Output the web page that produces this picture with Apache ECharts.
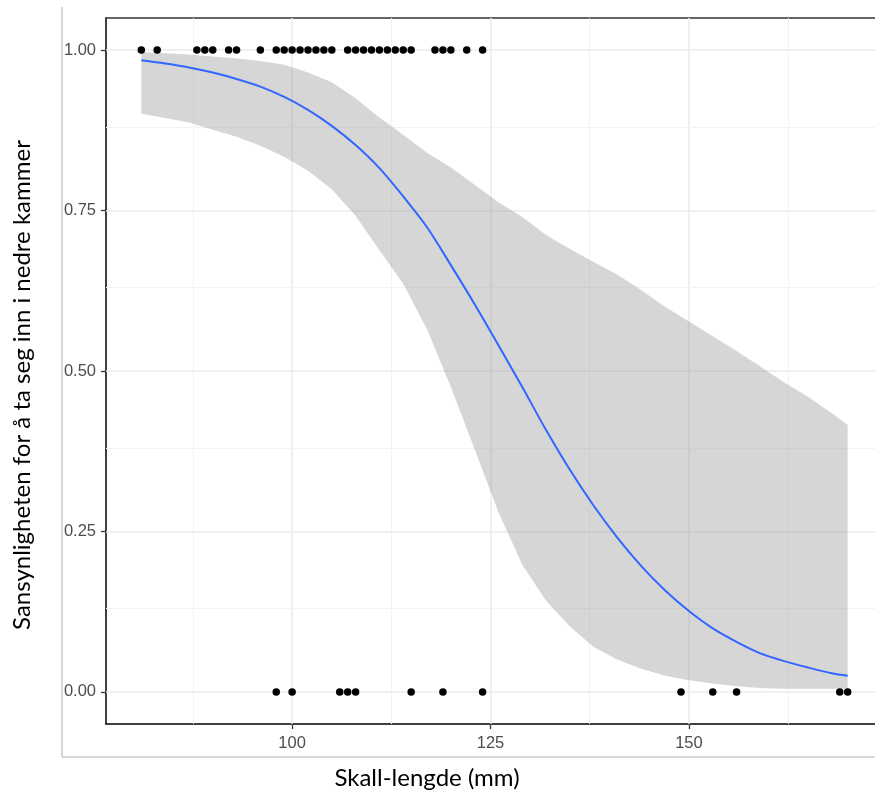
<!DOCTYPE html>
<html><head><meta charset="utf-8">
<script src="https://cdn.jsdelivr.net/npm/echarts@6/dist/echarts.min.js"></script>
<style>html,body{margin:0;padding:0;background:#fff}#c{width:875px;height:799px}</style>
</head><body><div id="c"></div>
<script>
// Fitted logistic curve
const curveX = [81,84,87,90,93,96,99,102,105,108,111,114,117,120,123,126,129,132,135,138,141,144,147,150,153,156,159,162,165,168,170];
const fitY   = [0.984,0.979,0.973,0.965,0.955,0.943,0.927,0.907,0.882,0.852,0.816,0.772,0.724,0.665,0.604,0.540,0.475,0.408,0.346,0.290,0.240,0.196,0.158,0.126,0.099,0.078,0.060,0.048,0.038,0.029,0.025];
const lowerY = [0.901,0.894,0.887,0.876,0.865,0.851,0.834,0.812,0.783,0.742,0.688,0.636,0.565,0.475,0.378,0.280,0.198,0.142,0.102,0.070,0.050,0.036,0.025,0.018,0.013,0.009,0.006,0.005,0.005,0.005,0.005];
const upperY = [0.997,0.995,0.993,0.990,0.987,0.983,0.977,0.965,0.950,0.925,0.895,0.868,0.840,0.817,0.790,0.763,0.740,0.712,0.690,0.670,0.650,0.626,0.600,0.577,0.554,0.531,0.507,0.482,0.460,0.434,0.416];
// Observations
const obsTopX = [81,83,88,89,90,92,93,96,98,99,100,101,102,103,104,105,107,108,109,110,111,112,113,114,115,118,119,120,122,124];
const obsBottomX = [98,100,106,107,108,115,119,124,149,153,156,169,170];
// Ticks / grid
const xTicks = [100,125,150];
const xTickLabels = ['100','125','150'];
const xMinorGrid = [87.5,112.5,137.5,162.5];
const yTicks = [0,0.25,0.5,0.75,1];
const yTickLabels = ['0.00','0.25','0.50','0.75','1.00'];
const yMinorGrid = [0.125,0.375,0.625,0.875];
const xTitle = 'Skall-lengde (mm)';
const yTitle = 'Sansynligheten for å ta seg inn i nedre kammer';

const chart = echarts.init(document.getElementById('c'), null, {renderer:'canvas'});
const majorLine = {color:'#EBEBEB', width:1.6, type:'solid'};
const minorLine = {color:'#F3F3F3', width:1, type:'solid'};
const gridMarks = []
  .concat(xTicks.map(v=>({xAxis:v, lineStyle:majorLine})))
  .concat(xMinorGrid.map(v=>({xAxis:v, lineStyle:minorLine})))
  .concat(yTicks.map(v=>({yAxis:v, lineStyle:majorLine})))
  .concat(yMinorGrid.map(v=>({yAxis:v, lineStyle:minorLine})));

const labelFont = {color:'#4D4D4D', fontSize:16.5, fontFamily:'"Liberation Sans", Arial, sans-serif'};
chart.setOption({
  animation:false,
  backgroundColor:'#fff',
  grid:{left:106, right:-8, top:18, bottom:75, show:true, borderColor:'#333333', borderWidth:1.5, backgroundColor:'#fff', outerBoundsMode:'none', containLabel:false},
  xAxis:{type:'value', min:76.55, max:174.45,
    axisLine:{show:true, onZero:false, lineStyle:{color:'#333333', width:1.5}},
    axisTick:{show:true, customValues:xTicks, length:5, lineStyle:{color:'#333333', width:1.3}},
    axisLabel:Object.assign({customValues:xTicks, margin:11, formatter:v=>xTickLabels[xTicks.indexOf(v)] ?? ''}, labelFont),
    splitLine:{show:false}},
  yAxis:{type:'value', min:-0.05, max:1.05,
    axisLine:{show:true, onZero:false, lineStyle:{color:'#333333', width:1.5}},
    axisTick:{show:true, customValues:yTicks, length:5, lineStyle:{color:'#333333', width:1.3}},
    axisLabel:Object.assign({customValues:yTicks, margin:10, formatter:v=>yTickLabels[yTicks.indexOf(v)] ?? ''}, labelFont),
    splitLine:{show:false}},
  series:[
    {type:'line', data:[], z:1, zlevel:0, silent:true,
     markLine:{silent:true, z:1, symbol:['none','none'], label:{show:false}, data:gridMarks, animation:false}},
    {type:'custom', name:'band', z:2, silent:true,
     data:curveX.map((x,i)=>[x, lowerY[i], upperY[i]]),
     encode:{x:0, y:[1,2]},
     renderItem:function(params, api){
       if (params.dataIndex !== 0) return null;
       const pts = [];
       for (let i=0;i<curveX.length;i++) pts.push(api.coord([curveX[i], upperY[i]]));
       for (let i=curveX.length-1;i>=0;i--) pts.push(api.coord([curveX[i], lowerY[i]]));
       return {type:'polygon', shape:{points:pts}, style:{fill:'#999999', opacity:0.4}};
     }},
    {type:'line', name:'fit', data:curveX.map((x,i)=>[x,fitY[i]]), symbol:'none', smooth:0.3,
     lineStyle:{color:'#3366FF', width:2}, z:3, silent:true},
    {type:'scatter', data:obsTopX.map(x=>[x,1]), symbolSize:7.5, itemStyle:{color:'#000', opacity:1}, z:10, silent:true},
    {type:'scatter', data:obsBottomX.map(x=>[x,0]), symbolSize:7.5, itemStyle:{color:'#000', opacity:1}, z:10, silent:true}
  ],
  graphic:[
    {type:'line', shape:{x1:62,y1:7,x2:62,y2:757}, style:{stroke:'#C8C8C8', lineWidth:1.5}, silent:true},
    {type:'line', shape:{x1:62,y1:757,x2:875,y2:757}, style:{stroke:'#C8C8C8', lineWidth:1.5}, silent:true},
    {type:'text', x:427, y:778, style:{text:xTitle, align:'center', verticalAlign:'middle', fill:'#000', font:'24px Lato, "Open Sans", sans-serif'}, silent:true},
    {type:'text', x:22, y:385, rotation:Math.PI/2, style:{text:yTitle, align:'center', verticalAlign:'middle', fill:'#000', font:'24px Lato, "Open Sans", sans-serif'}, silent:true}
  ]
});
</script></body></html>
